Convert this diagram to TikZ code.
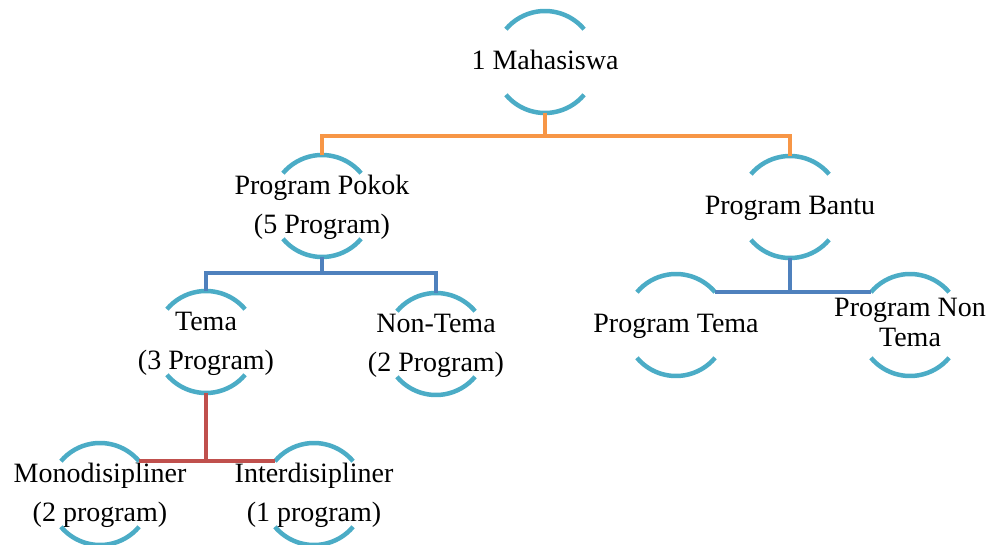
\documentclass[tikz,border=0pt]{standalone}
\usepackage{fontspec}
\setmainfont{Liberation Serif}
\definecolor{ringcol}{HTML}{4BACC6}
\definecolor{orangeln}{HTML}{F79646}
\definecolor{blueln}{HTML}{4F81BD}
\definecolor{redln}{HTML}{C0504D}
\newcommand\bubtext[1]{\makebox[0pt]{\begin{tabular}{@{}c@{}}#1\end{tabular}}}

\begin{document}
\begin{tikzpicture}[x=1pt,y=-1pt,
    bub/.style={circle,minimum size=102pt,inner sep=0pt,outer sep=0pt,
        font=\fontsize{28}{39}\selectfont},
    ring/.style={ringcol,line width=4.5pt},
    link/.style={line width=4.5pt}]
    \useasboundingbox (0,0) rectangle (990,545);

    \node[bub] (mhs) at (545,62) {\bubtext{1 Mahasiswa}};
    \node[bub] (pokok) at (322,206) {\bubtext{Program Pokok\\(5 Program)}};
    \node[bub] (bantu) at (790,207) {\bubtext{Program Bantu}};
    \node[bub] (tema) at (206,342) {\bubtext{Tema\\(3 Program)}};
    \node[bub] (nontema) at (436,344) {\bubtext{Non-Tema\\(2 Program)}};
    \node[bub] (ptema) at (676,325) {\bubtext{Program Tema}};
    \node[bub,font=\fontsize{28}{30}\selectfont] (pnontema) at (910,325) {\bubtext{Program Non\\Tema}};
    \node[bub] (mono) at (100,494) {\bubtext{Monodisipliner\\(2 program)}};
    \node[bub] (inter) at (314,494) {\bubtext{Interdisipliner\\(1 program)}};

    % arcs above and below each text
    \foreach \n in {mhs,pokok,bantu,tema,nontema,ptema,pnontema,mono,inter}
        \draw[ring] (\n.40) arc (40:140:51pt) (\n.220) arc (220:320:51pt);

    \draw[link,orangeln] (mhs.south) -- ++(0,23) coordinate (ob);
    \draw[link,orangeln] (pokok.north) |- (ob) -| (bantu.north);

    \draw[link,blueln] (pokok.south) -- ++(0,16) coordinate (pb);
    \draw[link,blueln] (tema.north) |- (pb) -| (nontema.north);
    \draw[link,blueln] (bantu.south) -- (bantu.south |- ptema.40);
    \draw[link,blueln] (ptema.40) -- (pnontema.140);

    \draw[link,redln] (tema.south) |- (mono.40);
    \draw[link,redln] (mono.40) -- (inter.140);
\end{tikzpicture}
\end{document}
